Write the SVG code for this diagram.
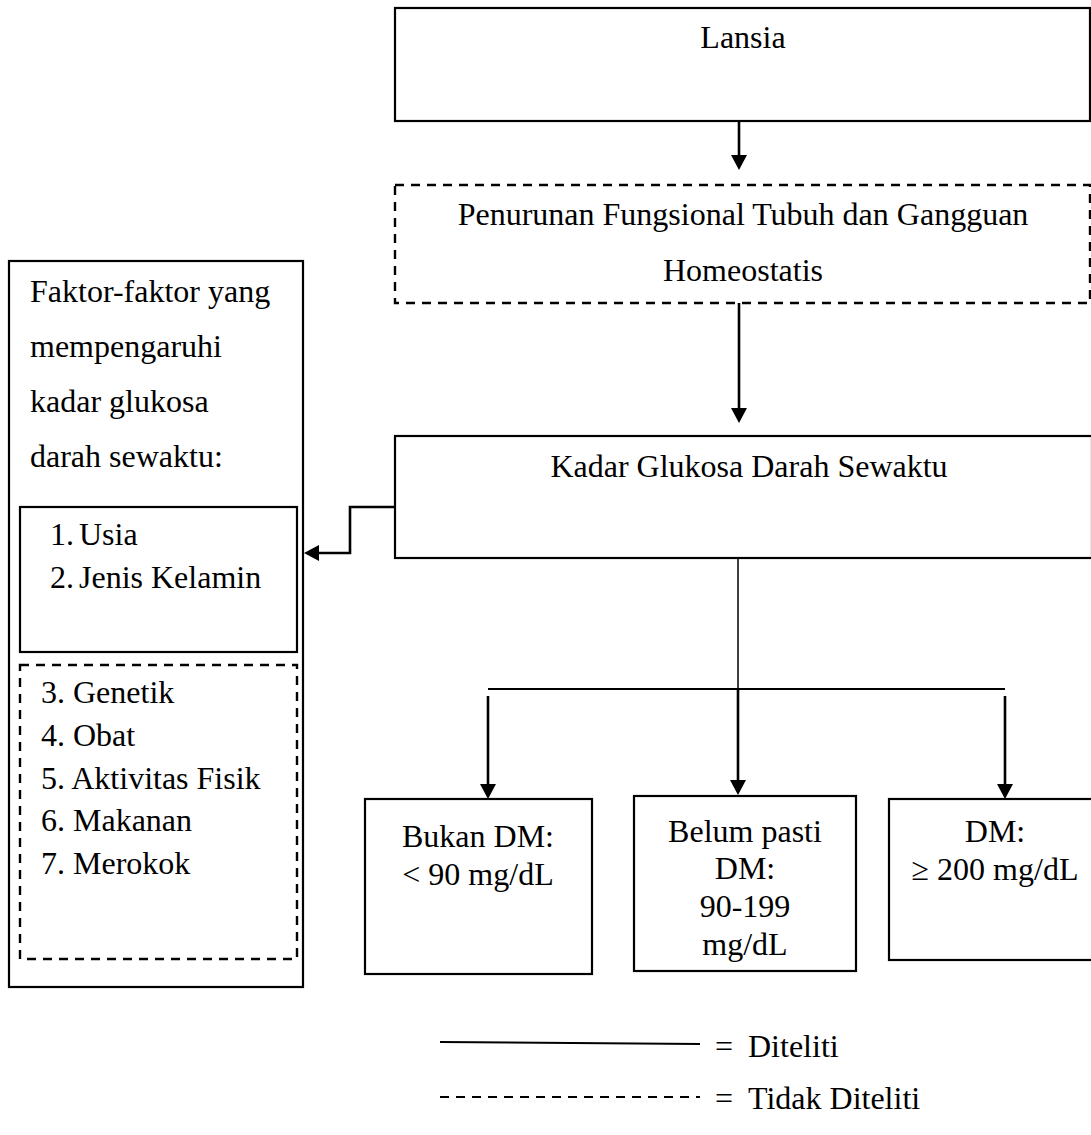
<svg xmlns="http://www.w3.org/2000/svg" width="1091" height="1135" viewBox="0 0 1091 1135">
<style>
  text { font-family: "Liberation Serif", "Times New Roman", serif; font-size: 32px; fill: #000; }
  .c { text-anchor: middle; }
  .box { fill: #fff; stroke: #000; stroke-width: 2.2; }
  .dash { fill: none; stroke: #000; stroke-width: 2.4; stroke-dasharray: 9 7; }
  .conn { fill: none; stroke: #000; stroke-width: 2.6; }
  .thin { fill: none; stroke: #000; stroke-width: 1.5; }
</style>
<defs>
  <marker id="arr" viewBox="0 0 15 16" refX="11" refY="8" markerWidth="15" markerHeight="16" markerUnits="userSpaceOnUse" orient="auto">
    <path d="M0,0 L15,8 L0,16 z" fill="#000"/>
  </marker>
</defs>
<rect width="1091" height="1135" fill="#fff"/>

<g id="lansia">
  <rect class="box" x="395" y="8" width="695" height="113"/>
  <text class="c" x="743" y="48">Lansia</text>
</g>

<g id="penurunan">
  <rect class="dash" x="395" y="185" width="695" height="118"/>
  <text class="c" x="743" y="225">Penurunan Fungsional Tubuh dan Gangguan</text>
  <text class="c" x="743" y="281">Homeostatis</text>
</g>

<g id="kadar">
  <rect class="box" x="395" y="436" width="697" height="122"/>
  <text class="c" x="749" y="477">Kadar Glukosa Darah Sewaktu</text>
</g>

<g id="faktor">
  <rect class="box" x="9" y="261" width="294" height="726"/>
  <text x="30" y="302">Faktor-faktor yang</text>
  <text x="30" y="357">mempengaruhi</text>
  <text x="30" y="412">kadar glukosa</text>
  <text x="30" y="467">darah sewaktu:</text>
</g>

<g id="diteliti-faktor">
  <rect class="box" x="20" y="507" width="277" height="145"/>
  <text x="50" y="545">1.</text><text x="79" y="545">Usia</text>
  <text x="50" y="588">2.</text><text x="79" y="588">Jenis Kelamin</text>
</g>

<g id="tidak-diteliti-faktor">
  <rect class="dash" x="20" y="665" width="277" height="294"/>
  <text x="41" y="703">3. Genetik</text>
  <text x="41" y="746">4. Obat</text>
  <text x="41" y="789">5. Aktivitas Fisik</text>
  <text x="41" y="831">6. Makanan</text>
  <text x="41" y="874">7. Merokok</text>
</g>

<g id="bukan-dm">
  <rect class="box" x="365" y="799" width="227" height="175"/>
  <text class="c" x="478" y="847">Bukan DM:</text>
  <text class="c" x="478" y="885">&lt; 90 mg/dL</text>
</g>

<g id="belum-pasti">
  <rect class="box" x="634" y="796" width="222" height="175"/>
  <text class="c" x="745" y="842">Belum pasti</text>
  <text class="c" x="745" y="879">DM:</text>
  <text class="c" x="745" y="917">90-199</text>
  <text class="c" x="745" y="955">mg/dL</text>
</g>

<g id="dm">
  <rect class="box" x="889" y="799" width="210" height="161"/>
  <text class="c" x="995" y="842">DM:</text>
  <text class="c" x="995" y="880">≥ 200 mg/dL</text>
</g>

<g id="connectors">
  <line class="conn" x1="739" y1="121" x2="739" y2="166" marker-end="url(#arr)"/>
  <line class="conn" x1="739" y1="303" x2="739" y2="419" marker-end="url(#arr)"/>
  <polyline class="conn" points="395,507 350,507 350,553 308,553" marker-end="url(#arr)"/>
  <line class="thin" x1="738" y1="558" x2="738" y2="689"/>
  <line class="conn" x1="488" y1="689" x2="1005" y2="689" style="stroke-width:2"/>
  <line class="conn" x1="738" y1="689" x2="738" y2="791" marker-end="url(#arr)"/>
  <line class="conn" x1="488" y1="696" x2="488" y2="795" marker-end="url(#arr)"/>
  <line class="conn" x1="1005" y1="696" x2="1005" y2="795" marker-end="url(#arr)"/>
</g>

<g id="legend">
  <line x1="440" y1="1042" x2="700" y2="1044" stroke="#000" stroke-width="2"/>
  <text x="715" y="1057">=</text>
  <text x="748" y="1057">Diteliti</text>
  <line x1="440" y1="1097" x2="700" y2="1097" stroke="#000" stroke-width="2" stroke-dasharray="9 7"/>
  <text x="715" y="1109">=</text>
  <text x="748" y="1109">Tidak Diteliti</text>
</g>
</svg>
